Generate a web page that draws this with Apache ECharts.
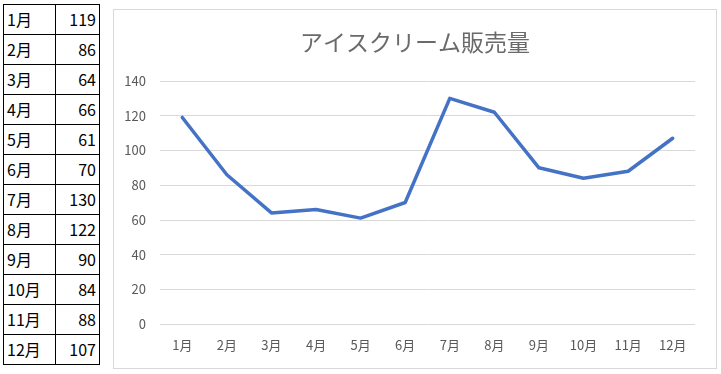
<!DOCTYPE html>
<html><head><meta charset="utf-8">
<script src="https://cdn.jsdelivr.net/npm/echarts@6/dist/echarts.min.js"></script>
<style>
html,body{margin:0;padding:0;background:#fff;width:721px;height:374px;overflow:hidden;}
#tbl{position:absolute;left:3px;top:4px;border-collapse:collapse;font-family:"Noto Sans CJK JP","Noto Sans",sans-serif;font-size:16px;color:#000;}
#tbl td{border:1px solid #000;height:29px;padding:0 3px;line-height:29px;}
#tbl td.c{width:45px;text-align:left;}
#tbl td.v{width:37px;text-align:right;}
#chart{position:absolute;left:113px;top:9px;width:602px;height:358px;border:1px solid #d9d9d9;}
</style></head>
<body>
<table id="tbl"></table>
<div id="chart"></div>
<script>
const months = ['1月','2月','3月','4月','5月','6月','7月','8月','9月','10月','11月','12月'];
const sales = [119,86,64,66,61,70,130,122,90,84,88,107];
const chartTitle = 'アイスクリーム販売量';

const tbl = document.getElementById('tbl');
months.forEach((m,i)=>{
  const tr = document.createElement('tr');
  const a = document.createElement('td'); a.className='c'; a.textContent=m;
  const b = document.createElement('td'); b.className='v'; b.textContent=sales[i];
  tr.appendChild(a); tr.appendChild(b); tbl.appendChild(tr);
});

const chart = echarts.init(document.getElementById('chart'));
const font = '"Noto Sans CJK JP","Noto Sans",sans-serif';
chart.setOption({
  animation:false,
  title:{text:chartTitle,left:'center',top:16,textStyle:{fontFamily:font,fontSize:23,fontWeight:'normal',color:'#6a6a6a'}},
  grid:{left:46,right:21,top:71,bottom:44},
  xAxis:{type:'category',data:months,boundaryGap:true,
    axisLine:{show:false},axisTick:{show:false},
    axisLabel:{color:'#595959',fontFamily:font,fontSize:13,margin:15}},
  yAxis:{type:'value',min:0,max:140,interval:20,
    axisLine:{show:false},axisTick:{show:false},
    axisLabel:{color:'#595959',fontFamily:font,fontSize:13,margin:14},
    splitLine:{lineStyle:{color:'#d9d9d9',width:1}}},
  series:[{type:'line',data:sales,symbol:'none',lineStyle:{color:'#4472C4',width:3.5,cap:'round',join:'round'}}]
});
</script>
</body></html>
